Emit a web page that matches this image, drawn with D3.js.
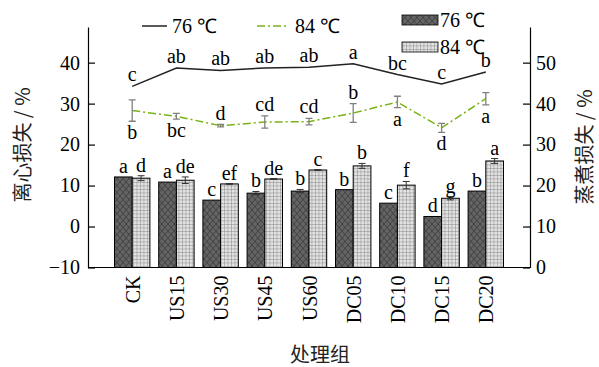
<!DOCTYPE html>
<html><head><meta charset="utf-8">
<script src="https://cdn.jsdelivr.net/npm/d3@7/dist/d3.min.js"></script>
<style>body{margin:0;background:#fff}svg{display:block}</style>
</head><body><svg id="c" width="599" height="367"></svg>
<script>
const categories=["CK","US15","US30","US45","US60","DC05","DC10","DC15","DC20"];
// centrifugal loss (left axis, bars)
const bar76=[12.1,10.85,6.45,8.15,8.65,9.0,5.7,2.45,8.65];
const bar76Err=[0,0,0,0.4,0.4,0,0,0,0];
const bar76Letters=["a","a","c","b","b","b","c","d","b"];
const bar84=[11.8,11.3,10.4,11.6,13.8,14.8,10.1,6.9,16.0];
const bar84Err=[0.6,0.8,0.1,0.1,0.1,0.6,0.9,0.4,0.6];
const bar84Letters=["d","de","ef","de","c","b","f","g","a"];
// cooking loss (right axis, lines)
const line76=[44.2,48.7,48.1,48.7,48.9,49.7,47.1,44.8,47.7];
const line76Letters=["c","ab","ab","ab","ab","a","bc","c","b"];
const line84=[38.3,36.9,34.6,35.5,35.6,37.7,40.4,34.1,41.2];
const line84Err=[2.6,0.7,0.3,1.5,0.8,2.3,1.4,1.1,1.5];
const line84Letters=["b","bc","d","cd","cd","b","a","d","a"];
const line84Above=[false,false,true,true,true,true,false,false,false];
const leftTicks=[-10,0,10,20,30,40];
const rightTicks=[0,10,20,30,40,50];

const SERIF="'Liberation Serif','Times New Roman',serif";
const CJK="'Noto Sans CJK SC',sans-serif";
const svg=d3.select("#c");
const x0=88,x1=530,yB=267.5,yT=27;
const x=d3.scalePoint().domain(categories).range([x0,x1]).padding(1);
const yL=d3.scaleLinear().domain([-10,48.7]).range([yB,yT]);
const yR=d3.scaleLinear().domain([0,58.7]).range([yB,yT]);
const bw=17.7;

const defs=svg.append("defs");
const p1=defs.append("pattern").attr("id","cross").attr("patternUnits","userSpaceOnUse").attr("width",6).attr("height",7);
p1.append("rect").attr("width",6).attr("height",7).attr("fill","#646464");
p1.append("path").attr("d","M0,0L6,7M6,0L0,7").attr("stroke","#383838").attr("stroke-width",0.8);
const p2=defs.append("pattern").attr("id","grid").attr("patternUnits","userSpaceOnUse").attr("width",3.5).attr("height",3.5);
p2.append("rect").attr("width",3.5).attr("height",3.5).attr("fill","#e2e2e2");
p2.append("path").attr("d","M0,0H3.5M0,0V3.5").attr("stroke","#777").attr("stroke-width",0.8);

const txt=(sel,fs)=>sel.attr("font-family",SERIF).attr("font-size",fs||20).attr("fill","#000");

// bars
const g=svg.append("g");
categories.forEach((c,i)=>{
  const cx=x(c);
  g.append("rect").attr("x",cx-bw).attr("y",yL(bar76[i])).attr("width",bw).attr("height",yB-yL(bar76[i]))
   .attr("fill","url(#cross)").attr("stroke","#000").attr("stroke-width",1);
  g.append("rect").attr("x",cx).attr("y",yL(bar84[i])).attr("width",bw).attr("height",yB-yL(bar84[i]))
   .attr("fill","url(#grid)").attr("stroke","#000").attr("stroke-width",1);
  [[cx-bw/2,bar76[i],bar76Err[i],bar76Letters[i]],[cx+bw/2,bar84[i],bar84Err[i],bar84Letters[i]]].forEach(([bx,v,e,l])=>{
    if(e>0.05){
      g.append("path").attr("d",`M${bx},${yL(v-e)}V${yL(v+e)}M${bx-3.5},${yL(v+e)}H${bx+3.5}M${bx-3.5},${yL(v-e)}H${bx+3.5}`)
       .attr("stroke","#333").attr("stroke-width",1).attr("fill","none");
    }
    txt(g.append("text").attr("x",bx).attr("y",yL(v+e)-4).attr("text-anchor","middle")).text(l);
  });
});

// lines
const lineGen=ys=>d3.line().x((d,i)=>x(categories[i])).y(d=>ys(d));
svg.append("path").datum(line76).attr("d",lineGen(yR)).attr("fill","none").attr("stroke","#222").attr("stroke-width",1.5);
svg.append("path").datum(line84).attr("d",lineGen(yR)).attr("fill","none").attr("stroke","#7ab317").attr("stroke-width",1.5).attr("stroke-dasharray","8,3,2,3");
categories.forEach((c,i)=>{
  const cx=x(c);
  txt(svg.append("text").attr("x",cx).attr("y",yR(line76[i])-5).attr("text-anchor","middle")).text(line76Letters[i]);
  const v=line84[i],e=line84Err[i];
  svg.append("path").attr("d",`M${cx},${yR(v-e)}V${yR(v+e)}M${cx-3.5},${yR(v+e)}H${cx+3.5}M${cx-3.5},${yR(v-e)}H${cx+3.5}`)
   .attr("stroke","#808080").attr("stroke-width",1.3).attr("fill","none");
  txt(svg.append("text").attr("x",cx).attr("y",line84Above[i]?yR(v+e)-5:yR(v-e)+18).attr("text-anchor","middle")).text(line84Letters[i]);
});

// axes
const aL=svg.append("g").attr("transform",`translate(${x0},0)`).call(d3.axisLeft(yL).tickValues(leftTicks).tickSizeInner(-7).tickSizeOuter(0).tickPadding(8).tickFormat(d=>d<0?"\u2212"+(-d):d));
const aR=svg.append("g").attr("transform",`translate(${x1},0)`).call(d3.axisRight(yR).tickValues(rightTicks).tickSizeInner(-7).tickSizeOuter(0).tickPadding(6));
const aB=svg.append("g").attr("transform",`translate(0,${yB})`).call(d3.axisBottom(x).tickSize(0).tickPadding(0));
[aL,aR,aB].forEach(a=>{a.attr("font-family",SERIF).attr("font-size",20);a.selectAll("path,line").attr("stroke","#000").attr("stroke-width",1.2);txt(a.selectAll("text"));});
aB.select(".domain").attr("d",`M${x0},0H${x1}`);
aB.selectAll("text").attr("transform","rotate(-90)").attr("text-anchor","end").attr("x",-8).attr("y",0).attr("dy","0.35em");

// axis titles
svg.append("text").attr("transform","translate(30,145) rotate(-90)").attr("text-anchor","middle").attr("font-size",20)
  .attr("font-family",CJK).attr("fill","#222").text("离心损失 / %");
svg.append("text").attr("transform","translate(592,147) rotate(-90)").attr("text-anchor","middle").attr("font-size",20)
  .attr("font-family",CJK).attr("fill","#222").text("蒸煮损失 / %");
svg.append("text").attr("x",320).attr("y",362).attr("text-anchor","middle").attr("font-size",20)
  .attr("font-family",CJK).attr("fill","#222").text("处理组");

// legend
const lg=svg.append("g");
lg.append("line").attr("x1",142).attr("x2",167).attr("y1",26).attr("y2",26).attr("stroke","#222").attr("stroke-width",1.5);
txt(lg.append("text").attr("x",172).attr("y",33)).text("76 ℃");
lg.append("line").attr("x1",257).attr("x2",289).attr("y1",26).attr("y2",26).attr("stroke","#7ab317").attr("stroke-width",1.5).attr("stroke-dasharray","8,3,2,3");
txt(lg.append("text").attr("x",295).attr("y",33)).text("84 ℃");
lg.append("rect").attr("x",402).attr("y",15).attr("width",36).attr("height",10).attr("fill","url(#cross)").attr("stroke","#000").attr("stroke-width",0.8);
txt(lg.append("text").attr("x",440).attr("y",27)).text("76 ℃");
lg.append("rect").attr("x",402).attr("y",42).attr("width",36).attr("height",10).attr("fill","url(#grid)").attr("stroke","#000").attr("stroke-width",0.8);
txt(lg.append("text").attr("x",440).attr("y",54)).text("84 ℃");
</script></body></html>
